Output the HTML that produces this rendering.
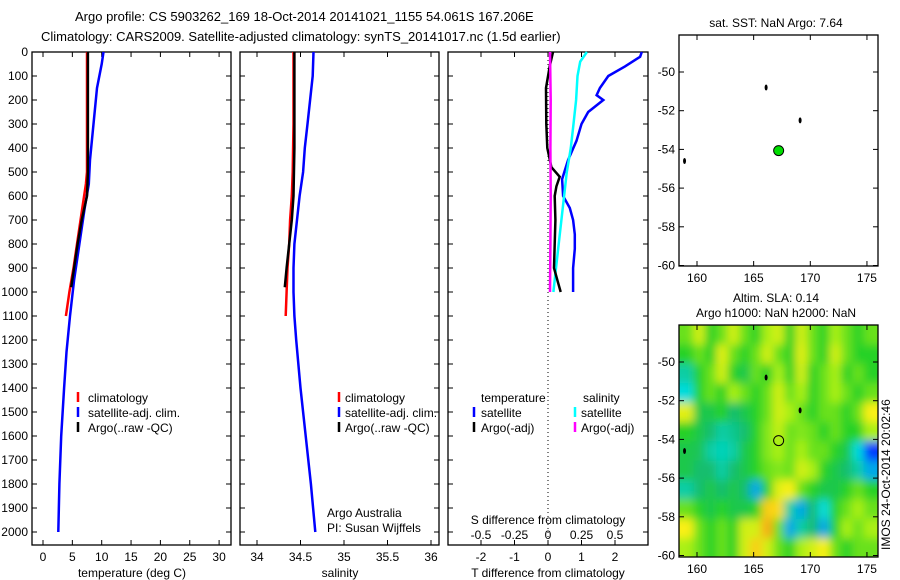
<!DOCTYPE html>
<html><head><meta charset="utf-8"><style>
body{margin:0;background:#fff;}
svg{display:block;font-family:"Liberation Sans",sans-serif;font-size:12px;}
</style></head><body>
<svg id="fig" width="900" height="580" viewBox="0 0 900 580" xmlns="http://www.w3.org/2000/svg">
<defs>
<filter id="blur" x="-10%" y="-10%" width="120%" height="120%"><feGaussianBlur stdDeviation="4.5"/></filter>
<clipPath id="mapclip"><rect x="679" y="325" width="199" height="232"/></clipPath>
</defs>
<text x="75" y="21" font-size="13">Argo profile: CS 5903262_169 18-Oct-2014 20141021_1155 54.061S 167.206E</text>
<text x="41" y="41" font-size="13">Climatology: CARS2009. Satellite-adjusted climatology: synTS_20141017.nc (1.5d earlier)</text>
<g clip-path="url(#mapclip)"><g id="heat" filter="url(#blur)"></g></g>
<g id="layer"></g>
<text transform="translate(890,550) rotate(-90)" font-size="12">IMOS 24-Oct-2014 20:02:46</text>
</svg>
<script>
// ---------- data ----------
const depthTicks=[0,100,200,300,400,500,600,700,800,900,1000,1100,1200,1300,1400,1500,1600,1700,1800,1900,2000];
const tempTicks=[0,5,10,15,20,25,30];
const salTicks=[34,34.5,35,35.5,36];
const tdiffTicks=[-2,-1,0,1,2];
const sdiffTicks=[-0.5,-0.25,0,0.25,0.5];
const sdiffLabels=["-0.5","-0.25","0","0.25","0.5"];
const lonTicks=[160,165,170,175];
const latTicks=[-50,-52,-54,-56,-58,-60];

const tClimDepth=[0,100,300,500,550,650,800,900,1000,1100];
const tClim=[7.5,7.5,7.5,7.5,7.3,6.7,5.8,5.2,4.5,3.9];
const tSatDepth=[0,50,150,300,450,550,650,800,950,1100,1250,1400,1600,1800,2000];
const tSat=[10.3,10.0,9.2,8.6,8.0,7.8,7.1,6.2,5.3,4.6,4.0,3.6,3.1,2.8,2.6];
const tArgoDepth=[0,100,300,500,600,700,800,900,980];
const tArgo=[7.65,7.65,7.65,7.65,7.5,6.6,5.9,5.3,4.8];

const sClimDepth=[0,300,500,600,700,800,900,1000,1100];
const sClim=[34.42,34.42,34.41,34.40,34.38,34.37,34.35,34.34,34.33];
const sSatDepth=[0,100,200,300,400,500,600,700,800,900,1000,1100,1200,1400,1600,1800,2000];
const sSat=[34.65,34.64,34.61,34.58,34.55,34.53,34.49,34.46,34.43,34.42,34.42,34.43,34.45,34.5,34.56,34.62,34.67];
const sArgoDepth=[0,200,400,600,700,800,900,980];
const sArgo=[34.43,34.43,34.43,34.42,34.40,34.37,34.34,34.32];

const dTSatDepth=[0,20,60,100,150,180,200,250,300,370,450,530,600,650,700,760,820,900,1000];
const dTSat=[2.8,2.75,2.3,1.8,1.55,1.45,1.65,1.2,1.0,0.85,0.6,0.42,0.45,0.65,0.75,0.8,0.8,0.75,0.75];
const dSSatDepth=[0,40,100,200,300,400,500,600,700,800,900,1000];
const dSSat=[0.29,0.24,0.22,0.21,0.19,0.17,0.14,0.12,0.1,0.08,0.06,0.04];
const dTArgoDepth=[0,60,150,300,400,480,520,560,600,700,800,900,960,1000];
const dTArgo=[0.15,0.05,-0.06,-0.05,-0.02,0.1,0.35,0.25,0.2,0.22,0.2,0.18,0.3,0.38];
const dSArgoDepth=[0,200,400,600,800,1000];
const dSArgo=[0.015,0.02,0.018,0.02,0.018,0.015];

const argoLon=167.206, argoLat=-54.061;
const islandLon=[166.1,169.1,158.9];
const islandLat=[-50.8,-52.5,-54.6];

const heatLonStart=158.7, heatLonStep=1.0, heatLatStart=-48.1, heatLatStep=-1.0;
const heat=[
[.6,.7,.55,.6,.7,.6,.55,.65,.7,.55,.7,.6,.55,.65,.6,.55,.6],
[.55,.6,.55,.72,.6,.55,.6,.7,.6,.55,.72,.6,.55,.7,.6,.55,.55],
[.4,.55,.6,.7,.55,.5,.6,.55,.65,.55,.7,.55,.6,.65,.55,.6,.55],
[.35,.55,.6,.55,.65,.6,.55,.6,.7,.6,.65,.55,.6,.65,.6,.55,.6],
[.72,.5,.5,.55,.45,.5,.55,.6,.7,.65,.6,.55,.6,.6,.55,.6,.75],
[.55,.5,.45,.4,.42,.45,.55,.62,.68,.6,.62,.6,.55,.6,.55,.55,.65],
[.5,.48,.4,.38,.4,.5,.55,.62,.65,.6,.65,.6,.6,.55,.5,.35,.2],
[.5,.45,.45,.4,.45,.5,.55,.6,.62,.6,.7,.65,.55,.5,.45,.4,.3],
[.4,.45,.5,.45,.5,.45,.3,.55,.72,.75,.6,.55,.5,.5,.55,.6,.55],
[.6,.55,.5,.55,.5,.5,.55,.8,.78,.4,.3,.45,.35,.55,.6,.65,.6],
[.75,.6,.55,.6,.55,.7,.7,.85,.6,.3,.4,.45,.3,.55,.65,.6,.65],
[.65,.6,.55,.6,.55,.7,.8,.7,.6,.55,.65,.7,.75,.6,.55,.6,.6]];

// ---------- helpers ----------
const NS="http://www.w3.org/2000/svg";
const root=document.getElementById('layer');
function mk(tag,attrs,parent){const e=document.createElementNS(NS,tag);for(const k in attrs)e.setAttribute(k,attrs[k]);(parent||root).appendChild(e);return e;}
const yD=d=>52+d*0.24;
const xT=t=>43+t*5.87;
const xS=s=>257+(s-34)*87;
const xdT=t=>548+t*33.5;
const xdS=s=>548+s*134;
function line(xs,ys,xf,color,name){
  const pts=xs.map((v,i)=>xf(v).toFixed(1)+','+yD(ys[i]).toFixed(1)).join(' ');
  const p=mk('polyline',{points:pts,fill:'none',stroke:color,'stroke-width':2.5});
  
  
}
function frame(x0,x1,y0,y1,name){
  const r=mk('rect',{x:x0,y:y0,width:x1-x0,height:y1-y0,fill:'none',stroke:'#000','stroke-width':1.3});
  
  
}
function txt(x,y,s,anchor,name,extra){
  const t=mk('text',Object.assign({x:x,y:y,'text-anchor':anchor||'start'},extra||{}));
  t.textContent=s;
  
  
  return t;
}
function depthTickMarks(x0,x1,labels){
  depthTicks.forEach(d=>{const y=yD(d);
    mk('line',{x1:x0,y1:y,x2:x0+5,y2:y,stroke:'#000'});
    mk('line',{x1:x1,y1:y,x2:x1-5,y2:y,stroke:'#000'});
    if(labels) txt(x0-4,y+4,String(d),'end','depth-tick-label');
  });
}
function xTicks(vals,xf,y0,y1,labels,ly){
  vals.forEach((v,i)=>{const x=xf(v);
    mk('line',{x1:x,y1:y1,x2:x,y2:y1-5,stroke:'#000'});
    mk('line',{x1:x,y1:y0,x2:x,y2:y0+5,stroke:'#000'});
    if(labels) txt(x,ly,labels[i],'middle','x-tick-label');
  });
}
function legendBar(x,y,color){
  const l=mk('line',{x1:x,y1:y-10,x2:x,y2:y,stroke:color,'stroke-width':2.5});
  
  
}

// ---------- panel 1 temperature ----------
frame(32,231,52,545,'temperature-panel');
depthTickMarks(32,231,true);
xTicks(tempTicks,xT,52,545,tempTicks.map(String),561);
txt(132,577,'temperature (deg C)','middle','x-axis-title-temperature');
line(tSat,tSatDepth,xT,'#0000ff','temp-satellite-line');
line(tClim,tClimDepth,xT,'#ff0000','temp-climatology-line');
line(tArgo,tArgoDepth,xT,'#000000','temp-argo-line');
legendBar(78,402,'#ff0000');txt(88,402,'climatology','start','legend-climatology');
legendBar(78,417,'#0000ff');txt(88,417,'satellite-adj. clim.','start','legend-satellite');
legendBar(78,432,'#000');txt(88,432,'Argo(..raw -QC)','start','legend-argo');

// ---------- panel 2 salinity ----------
frame(240,439,52,545,'salinity-panel');
depthTickMarks(240,439,false);
xTicks(salTicks,xS,52,545,salTicks.map(String),561);
txt(340,577,'salinity','middle','x-axis-title-salinity');
line(sSat,sSatDepth,xS,'#0000ff','sal-satellite-line');
line(sClim,sClimDepth,xS,'#ff0000','sal-climatology-line');
line(sArgo,sArgoDepth,xS,'#000000','sal-argo-line');
legendBar(339,402,'#ff0000');txt(345,402,'climatology','start','legend-climatology-2');
legendBar(339,417,'#0000ff');txt(345,417,'satellite-adj. clim.','start','legend-satellite-2');
legendBar(339,432,'#000');txt(345,432,'Argo(..raw -QC)','start','legend-argo-2');
txt(327,517,'Argo Australia','start','pi-institution');
txt(327,532,'PI: Susan Wijffels','start','pi-name');

// ---------- panel 3 differences ----------
frame(448,648,52,545,'difference-panel');
depthTickMarks(448,648,false);
tdiffTicks.forEach(v=>{const x=xdT(v);mk('line',{x1:x,y1:545,x2:x,y2:540,stroke:'#000'});mk('line',{x1:x,y1:52,x2:x,y2:57,stroke:'#000'});txt(x,561,String(v),'middle','t-diff-tick-label');});
sdiffTicks.forEach((v,i)=>{txt(xdS(v),539,sdiffLabels[i],'middle','s-diff-tick-label');});
txt(548,524,'S difference from climatology','middle','s-diff-axis-title');
txt(548,577,'T difference from climatology','middle','t-diff-axis-title');
mk('line',{x1:548,y1:52,x2:548,y2:545,stroke:'#000','stroke-dasharray':'1,3'});
line(dTSat,dTSatDepth,xdT,'#0000ff','tdiff-satellite-line');
line(dSSat,dSSatDepth,xdS,'#00ffff','sdiff-satellite-line');
line(dTArgo,dTArgoDepth,xdT,'#000000','tdiff-argo-line');
line(dSArgo,dSArgoDepth,xdS,'#ff00ff','sdiff-argo-line');
txt(481,402,'temperature','start','legend-temperature-heading');
txt(583,402,'salinity','start','legend-salinity-heading');
legendBar(474,417,'#0000ff');txt(481,417,'satellite','start','legend-t-satellite');
legendBar(474,432,'#000');txt(481,432,'Argo(-adj)','start','legend-t-argo');
legendBar(575,417,'#00ffff');txt(581,417,'satellite','start','legend-s-satellite');
legendBar(575,432,'#ff00ff');txt(581,432,'Argo(-adj)','start','legend-s-argo');

// ---------- maps ----------
function mapAxes(top,bottom,name){
  const xL=lon=>697+(lon-160)*11.33;
  const yL=lat=>top+37+(-50-lat)*19.35;
  lonTicks.forEach(l=>{const x=xL(l);mk('line',{x1:x,y1:top,x2:x,y2:top+5,stroke:'#000'});mk('line',{x1:x,y1:bottom,x2:x,y2:bottom-5,stroke:'#000'});txt(x,bottom+16,String(l),'middle','lon-tick-label');});
  latTicks.forEach(l=>{const y=yL(l);mk('line',{x1:679,y1:y,x2:684,y2:y,stroke:'#000'});mk('line',{x1:878,y1:y,x2:873,y2:y,stroke:'#000'});txt(675,y+4,String(l),'end','lat-tick-label');});
  frame(679,878,top,bottom,name);
  islandLon.forEach((lo,i)=>{const c=mk('ellipse',{cx:xL(lo),cy:yL(islandLat[i]),rx:1.5,ry:3,fill:'#000'});});
  return [xL,yL];
}
const [xL1,yL1]=mapAxes(35,266,'sst-map');
txt(776,27,'sat. SST: NaN Argo: 7.64','middle','sst-map-title');
const dot=mk('circle',{cx:xL1(argoLon),cy:yL1(argoLat),r:5,fill:'#00dd00',stroke:'#000'});



// heatmap
function cmap(v){
  const stops=[[0.1,[0,0,200]],[0.2,[0,60,255]],[0.35,[0,220,220]],[0.45,[20,190,110]],[0.55,[40,210,40]],[0.65,[170,240,20]],[0.75,[250,240,20]],[0.85,[250,170,20]],[0.95,[230,60,20]]];
  if(v<=stops[0][0])return stops[0][1];
  for(let i=1;i<stops.length;i++){if(v<=stops[i][0]){const a=stops[i-1],b=stops[i],f=(v-a[0])/(b[0]-a[0]);return a[1].map((c,k)=>Math.round(c+(b[1][k]-c)*f));}}
  return stops[stops.length-1][1];
}
const hg=document.getElementById('heat');
const top2=325,bot2=557;
const xL2=lon=>697+(lon-160)*11.33;
const yL2=lat=>top2+37+(-50-lat)*19.35;
const nR=heat.length,nC=heat[0].length;
heat.forEach((row,r)=>row.forEach((v,c)=>{
  let x0=xL2(heatLonStart+c*heatLonStep), x1=xL2(heatLonStart+(c+1)*heatLonStep);
  let y0=yL2(heatLatStart+r*heatLatStep), y1=yL2(heatLatStart+(r+1)*heatLatStep);
  if(c===0)x0-=12; if(c===nC-1)x1+=12; if(r===0)y0-=12; if(r===nR-1)y1+=12;
  const col=cmap(v);
  const cell=mk('rect',{x:x0.toFixed(1),y:y0.toFixed(1),width:(x1-x0+0.5).toFixed(1),height:(y1-y0+0.5).toFixed(1),fill:`rgb(${col})`},hg);
  
  
}));
mapAxes(top2,bot2,'sla-map');
txt(776,302,'Altim. SLA: 0.14','middle','sla-map-title');
txt(776,317,'Argo h1000: NaN h2000: NaN','middle','sla-map-subtitle');
const ring=mk('circle',{cx:xL2(argoLon),cy:yL2(argoLat),r:5,fill:'none',stroke:'#000'});


</script>
</body></html>
